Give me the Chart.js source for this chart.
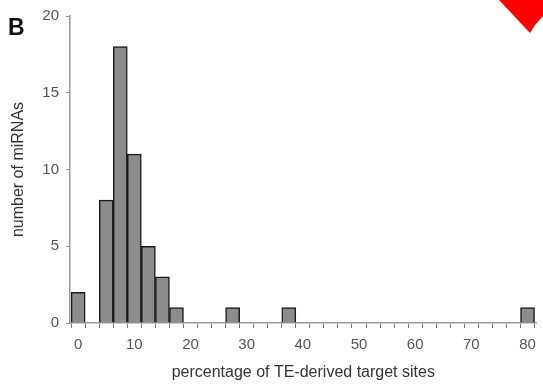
<!DOCTYPE html>
<html><head><meta charset="utf-8">
<script src="https://cdn.jsdelivr.net/npm/chart.js@4/dist/chart.umd.min.js"></script>
<style>html,body{margin:0;padding:0;background:#fff}#wrap{width:543px;height:385px;position:relative}</style>
</head><body><div id="wrap"><canvas id="c" width="543" height="385"></canvas></div>
<script>
const binCenters = [0, 5, 7.5, 10, 12.5, 15, 17.5, 27.5, 37.5, 80];
const counts = [2, 8, 18, 11, 5, 3, 1, 1, 1, 1];
const xLabelValues = [0, 10, 20, 30, 40, 50, 60, 70, 80];
const yTickValues = [0, 5, 10, 15, 20];
const binEdges = [-1.25, 1.25, 3.75, 6.25, 8.75, 11.25, 13.75, 16.25, 18.75, 21.25, 23.75, 26.25, 28.75, 31.25, 33.75, 36.25, 38.75, 41.25, 43.75, 46.25, 48.75, 51.25, 53.75, 56.25, 58.75, 61.25, 63.75, 66.25, 68.75, 71.25, 73.75, 76.25, 78.75, 81.25];
const panelLabel = 'B';
const xTitle = 'percentage of TE-derived target sites';
const yTitle = 'number of miRNAs';

const FONT = "'Liberation Sans', Arial, sans-serif";
const X_MIN = -1.45, X_MAX = 81.6;

const decor = {
  id: 'decor',
  afterDraw(chart) {
    const ctx = chart.ctx;
    ctx.save();
    ctx.fillStyle = '#111';
    ctx.font = "bold 23px " + FONT;
    ctx.textBaseline = 'alphabetic';
    ctx.fillText(panelLabel, 8, 35);
    ctx.fillStyle = '#ff0000';
    ctx.beginPath();
    ctx.moveTo(499, 0);
    ctx.lineTo(530, 33);
    ctx.lineTo(535, 25);
    ctx.lineTo(543, 16);
    ctx.lineTo(543, 0);
    ctx.closePath();
    ctx.fill();
    ctx.restore();
  }
};

new Chart(document.getElementById('c'), {
  type: 'bar',
  data: {
    datasets: [{
      data: binCenters.map((x, i) => ({x: x, y: counts[i]})),
      backgroundColor: '#8c8c8c',
      borderColor: '#1a1a1a',
      borderWidth: 1.5,
      barPercentage: 1,
      categoryPercentage: 1,
      xAxisID: 'x',
      yAxisID: 'y'
    }]
  },
  options: {
    responsive: false,
    animation: false,
    events: [],
    layout: {padding: {top: 15, right: 1, left: 0, bottom: 0}},
    plugins: {legend: {display: false}, tooltip: {enabled: false}},
    scales: {
      x: {
        type: 'linear', position: 'bottom', min: X_MIN, max: X_MAX, offset: false,
        afterBuildTicks: s => { s.ticks = binEdges.map(v => ({value: v})); },
        afterFit: s => { s.height = 6; },
        ticks: {display: false},
        grid: {drawOnChartArea: false, drawTicks: true, tickLength: 5, color: '#777', lineWidth: 1, offset: false},
        border: {display: true, color: '#999', width: 1.5}
      },
      x2: {
        type: 'linear', position: 'bottom', min: X_MIN, max: X_MAX, offset: false,
        afterBuildTicks: s => { s.ticks = xLabelValues.map(v => ({value: v})); },
        afterFit: s => { s.height = 56; },
        ticks: {font: {family: FONT, size: 15}, color: '#555', padding: 7, maxRotation: 0, autoSkip: false},
        grid: {display: false, drawTicks: false, offset: false},
        border: {display: false},
        title: {display: true, text: xTitle, font: {family: FONT, size: 16}, color: '#333', padding: {top: 0, bottom: 3}}
      },
      y: {
        min: 0, max: 20,
        afterBuildTicks: s => { s.ticks = yTickValues.map(v => ({value: v})); },
        afterFit: s => { s.width = 70; },
        ticks: {font: {family: FONT, size: 15}, color: '#555', padding: 7},
        grid: {drawOnChartArea: false, drawTicks: true, tickLength: 4, color: '#888', lineWidth: 1},
        border: {display: true, color: '#999', width: 1.5},
        title: {display: true, text: yTitle, font: {family: FONT, size: 16}, color: '#333', padding: {top: 9, bottom: 0}}
      }
    }
  },
  plugins: [decor]
});
</script>
</body></html>
